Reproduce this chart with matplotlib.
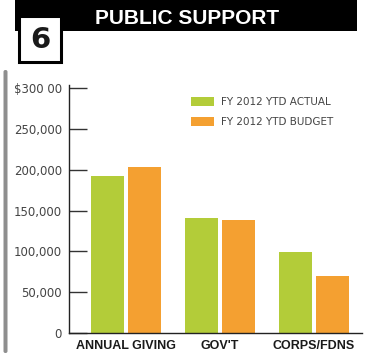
import matplotlib
matplotlib.use("Agg")
import matplotlib.pyplot as plt
from matplotlib.patches import Rectangle, FancyBboxPatch
import numpy as np

categories = ["ANNUAL GIVING", "GOV'T", "CORPS/FDNS"]
actual = [193000, 141000, 99000]
budget = [203000, 138000, 70000]
tick_values = [0, 50000, 100000, 150000, 200000, 250000, 300000]
tick_labels = ["0", "50,000", "100,000", "150,000", "200,000", "250,000", "$300 00"]
series_names = ["FY 2012 YTD ACTUAL", "FY 2012 YTD BUDGET"]

GREEN = "#b3cc39"
ORANGE = "#f4a031"

W, H = 372, 361
fig = plt.figure(figsize=(W / 100, H / 100), dpi=100)
fig.patch.set_facecolor("white")

def fx(px):
    return px / W

def fy(py):
    return 1 - py / H

# header band and number box
fig.patches.append(Rectangle((fx(15), fy(31)), fx(357) - fx(15), fy(0) - fy(31),
                             transform=fig.transFigure, facecolor="black",
                             edgecolor="none", zorder=1))
fig.patches.append(Rectangle((fx(19), fy(62)), fx(61) - fx(19), fy(16) - fy(62),
                             transform=fig.transFigure, facecolor="white",
                             edgecolor="black", linewidth=2.2, zorder=2))
fig.text(fx(40), fy(40), "6", ha="center", va="center", fontsize=21,
         fontweight="bold", color="#1a1a1a", family="DejaVu Sans", zorder=3)
fig.text(fx(187), fy(18), "PUBLIC SUPPORT", ha="center", va="center",
         fontsize=15, fontweight="bold", color="white",
         family="Liberation Sans", zorder=3)

# grey side rule
fig.patches.append(FancyBboxPatch((fx(3.5), fy(353)), fx(4), fy(70) - fy(353),
                                  boxstyle="round,pad=0,rounding_size=0.005",
                                  transform=fig.transFigure, facecolor="#8e8e8e",
                                  edgecolor="none"))

ax = fig.add_axes([fx(69), fy(333), fx(362) - fx(69), fy(85) - fy(333)])
x = np.arange(len(categories))
width = 0.35
ax.bar(x - 0.2, actual, width, color=GREEN, label=series_names[0], zorder=2)
ax.bar(x + 0.2, budget, width, color=ORANGE, label=series_names[1], zorder=2)

ax.set_xlim(-0.606, 2.51)
ax.set_ylim(0, 304000)
ax.set_yticks(tick_values)
ax.set_yticklabels(tick_labels, fontsize=8.5, color="#444444")
ax.tick_params(axis="y", direction="in", length=13, width=1, color="#333333", pad=5)
ax.set_xticks(x)
ax.set_xticklabels(categories, fontsize=9, fontweight="bold",
                   family=["Liberation Sans Narrow", "Liberation Sans"],
                   color="#1a1a1a")
ax.tick_params(axis="x", length=0, pad=5)
for s in ["top", "right"]:
    ax.spines[s].set_visible(False)
for s in ["left", "bottom"]:
    ax.spines[s].set_color("#222222")
    ax.spines[s].set_linewidth(1)

leg = ax.legend(loc="upper left", bbox_to_anchor=((191 - 69) / (362 - 69), 1 - (97 - 85) / (333 - 85)),
                frameon=False, fontsize=7.5, handlelength=2.2, handleheight=1.0,
                labelspacing=0.9, handletextpad=0.7, borderaxespad=0, borderpad=0)
for t in leg.get_texts():
    t.set_color("#444444")

fig.savefig("out.png", dpi=100)
